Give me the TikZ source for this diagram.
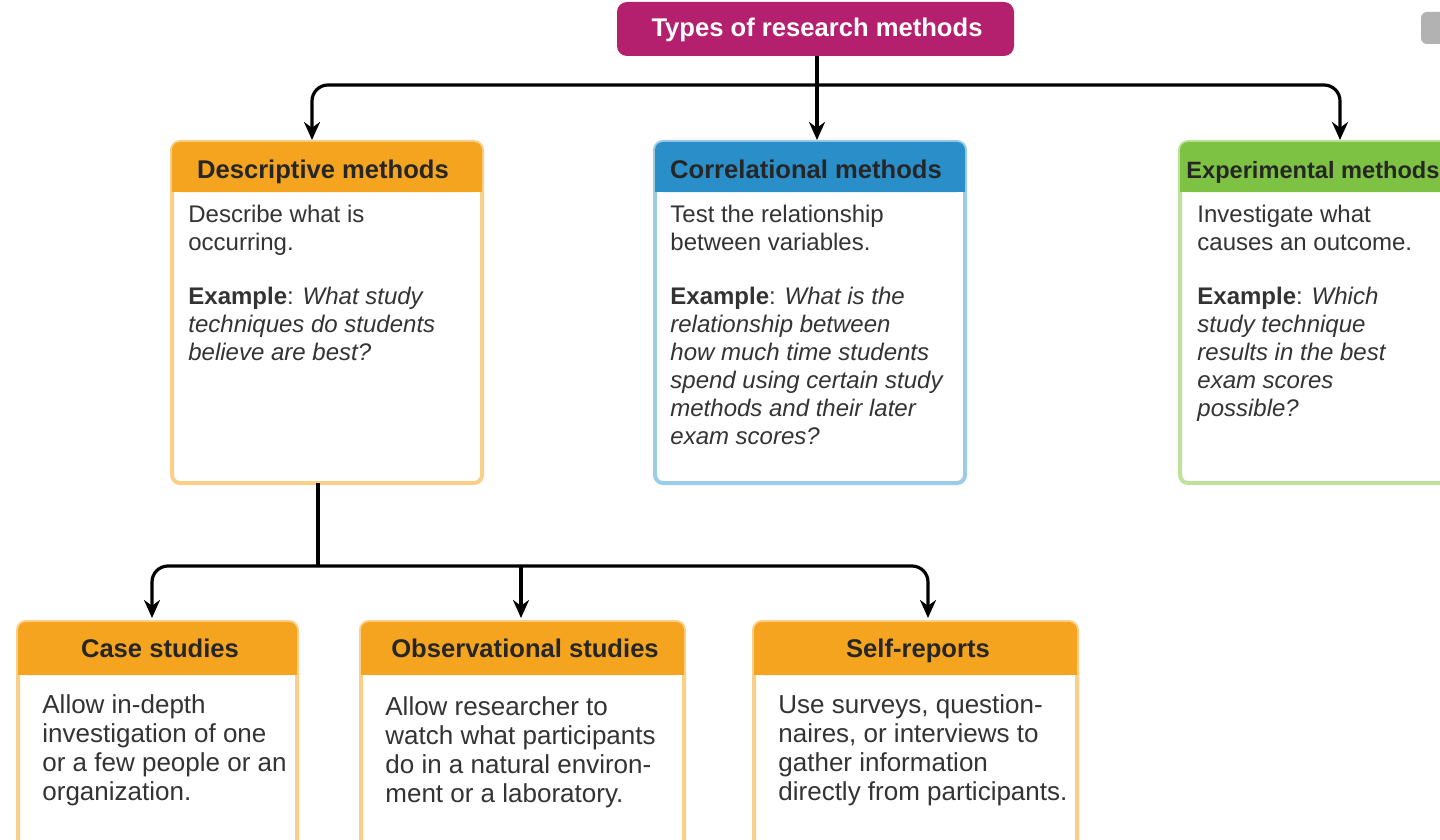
\documentclass[tikz,border=0pt]{standalone}
\usepackage{fontspec}
\setmainfont{Liberation Sans}
\usetikzlibrary{arrows.meta}
\definecolor{mag}{HTML}{B5206E}
\definecolor{org}{HTML}{F5A41F}
\definecolor{orgl}{HTML}{F9CF8A}
\definecolor{blu}{HTML}{2A8FC8}
\definecolor{blul}{HTML}{9CCBE8}
\definecolor{grn}{HTML}{7DC242}
\definecolor{grnl}{HTML}{BEE19C}
\definecolor{txt}{HTML}{333333}
\tikzset{
 conn/.style={line width=1.6pt,-{Stealth[length=9pt,width=8pt]},rounded corners=8pt},
 plain/.style={line width=1.6pt},
 body/.style={anchor=north west,align=left,font=\fontsize{12}{14}\selectfont,text=txt,inner sep=0pt},
 bbody/.style={body,font=\fontsize{13}{14.5}\selectfont},
 head/.style={font=\bfseries\fontsize{12.8}{13}\selectfont,text=black!85,inner sep=0pt,text height=9pt,text depth=2.5pt}
}
\begin{document}
\begin{tikzpicture}[x=0.5pt,y=-0.5pt]
\clip (0,0) rectangle (1440,840);
\useasboundingbox (0,0) rectangle (1440,840);
% title
\fill[mag,rounded corners=5pt] (617,2) rectangle (1014,56);
\node[font=\bfseries\fontsize{12.8}{13}\selectfont,text=white,text height=9pt,text depth=2.5pt] (title) at (817,30) {Types of research methods};
\fill[gray!60,rounded corners=3pt] (1421,12) rectangle (1460,44);
\newcommand{\mybox}[7]{%
 \fill[white] (#1,#2) rectangle (#3,#4);
 \draw[#6,line width=2pt,rounded corners=4pt] (#1,#2) rectangle (#3,#4);
 \fill[#5,rounded corners=4pt] (#1,#2) rectangle (#3,#7);
 \fill[#5] (#1,#7-8) rectangle (#3,#7);}
\mybox{172}{142}{482}{483}{org}{orgl}{192}
\mybox{655}{142}{965}{483}{blu}{blul}{192}
\mybox{1180}{142}{1470}{483}{grn}{grnl}{192}
\mybox{18}{622}{297}{850}{org}{orgl}{675}
\mybox{361}{622}{684}{850}{org}{orgl}{675}
\mybox{754}{622}{1077}{850}{org}{orgl}{675}
\node[head] (d) at (323,172) {Descriptive methods};
\node[head] (c) at (806,172) {Correlational methods};
\node[head,anchor=west,font=\bfseries\fontsize{11.8}{13}\selectfont] (e) at (1186,172) {Experimental methods};
\node[head] (cs) at (160,651) {Case studies};
\node[head] (os) at (525,651) {Observational studies};
\node[head] (sr) at (918,651) {Self-reports};
\coordinate (dt) at (312,140); \coordinate (ct) at (817,140); \coordinate (et) at (1340,140);
\coordinate (db) at (318,483);
\coordinate (cst) at (152,618); \coordinate (ost) at (521,618); \coordinate (srt) at (928,618);
\node[body] (dtx) at (188,205) {Describe what is\\occurring.\\[13pt]\textbf{Example}: \textit{What study}\\\textit{techniques do students}\\\textit{believe are best?}};
\node[body] (ctx) at (670,205) {Test the relationship\\between variables.\\[13pt]\textbf{Example}: \textit{What is the}\\\textit{relationship between}\\\textit{how much time students}\\\textit{spend using certain study}\\\textit{methods and their later}\\\textit{exam scores?}};
\node[body] (etx) at (1197,205) {Investigate what\\causes an outcome.\\[13pt]\textbf{Example}: \textit{Which}\\\textit{study technique}\\\textit{results in the best}\\\textit{exam scores}\\\textit{possible?}};
\node[bbody] (cstx) at (42,694) {Allow in-depth\\investigation of one\\or a few people or an\\organization.};
\node[bbody] (ostx) at (385,696) {Allow researcher to\\watch what participants\\do in a natural environ-\\ment or a laboratory.};
\node[bbody] (srtx) at (778,694) {Use surveys, question-\\naires, or interviews to\\gather information\\directly from participants.};
\draw[plain] (817,56) -- (817,85);
\draw[conn] (817,85) -| (dt);
\draw[conn] (817,85) -| (et);
\draw[conn] (817,85) -- (ct);
\draw[plain] (db) -- (318,566);
\draw[conn] (318,566) -| (cst);
\draw[conn] (318,566) -| (srt);
\draw[conn] (521,566) -- (ost);
\end{tikzpicture}
\end{document}
